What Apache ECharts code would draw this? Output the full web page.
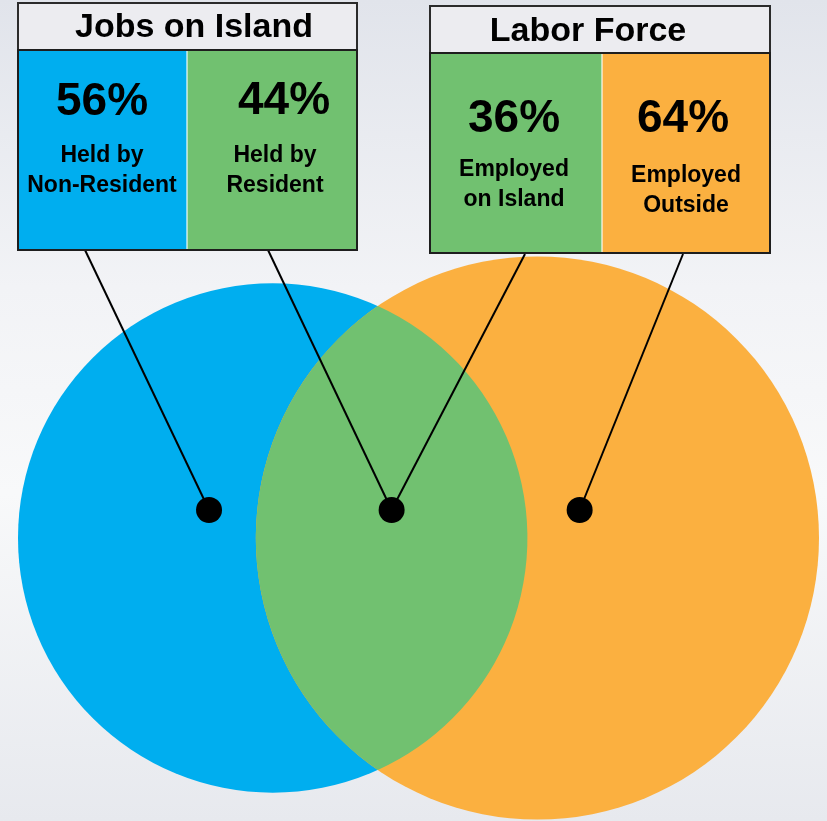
<!DOCTYPE html>
<html>
<head>
<meta charset="utf-8">
<title>Jobs on Island / Labor Force</title>
<script src="https://cdn.jsdelivr.net/npm/echarts@6/dist/echarts.min.js"></script>
<style>
  html, body { margin: 0; padding: 0; }
  #chart { width: 827px; height: 821px; }
</style>
</head>
<body>
<div id="chart"></div>
<script>
// ---- data ----
const jobsTitle = 'Jobs on Island';
const jobsLabels = [['Held by', 'Non-Resident'], ['Held by', 'Resident']];
const jobsShares = [56, 44];           // non-resident, resident

const laborTitle = 'Labor Force';
const laborLabels = [['Employed', 'on Island'], ['Employed', 'Outside']];
const laborShares = [36, 64];          // on island, outside

// ---- colours ----
const BLUE = '#00aeef';
const GREEN = '#71c170';
const ORANGE = '#fbb040';
const FONT = "'Liberation Sans', Arial, sans-serif";

// area of the lens shared by two circles at distance d
function lensArea(d, r1, r2) {
  const a1 = Math.acos((d * d + r1 * r1 - r2 * r2) / (2 * d * r1));
  const a2 = Math.acos((d * d + r2 * r2 - r1 * r1) / (2 * d * r2));
  const k = Math.sqrt((-d + r1 + r2) * (d + r1 - r2) * (d - r1 + r2) * (d + r1 + r2));
  return r1 * r1 * a1 + r2 * r2 * a2 - 0.5 * k;
}

// area-proportional venn: overlap = residents working on island
const overlapOfJobs = jobsShares[1] / 100;
const overlapOfLabor = laborShares[0] / 100;
const r1u = 1;
const r2u = Math.sqrt(overlapOfJobs / overlapOfLabor);
const target = overlapOfJobs * Math.PI * r1u * r1u;
let lo = Math.abs(r2u - r1u) + 1e-6, hi = r1u + r2u - 1e-6;
for (let i = 0; i < 60; i++) {
  const mid = (lo + hi) / 2;
  if (lensArea(mid, r1u, r2u) > target) lo = mid; else hi = mid;
}
const du = (lo + hi) / 2;

// fit the two circles between the left and right edges of the drawing
const LEFT = 18, RIGHT = 819, CY = 538;
const scale = (RIGHT - LEFT) / (r1u + du + r2u);
const r1 = r1u * scale, r2 = r2u * scale;
const c1 = LEFT + r1;
const c2 = c1 + du * scale;

const circleData = [[c1, CY, r1], [c2, CY, r2]];
const circleColors = [BLUE, ORANGE];
const lensData = [[c1, CY, r1, c2, r2]];

// dots: inside blue only, centre of the lens, inside orange only
const DOT_Y = 510;
const lensMid = ((c2 - r2) + (c1 + r1)) / 2;
const dotData = [[c1 - 0.25 * r1, DOT_Y], [lensMid, DOT_Y], [c2 + 0.15 * r2, DOT_Y]];
const leaderData = [
  [85, 250, dotData[0][0], DOT_Y],
  [268, 250, dotData[1][0], DOT_Y],
  [525, 254, dotData[1][0], DOT_Y],
  [683, 254, dotData[2][0], DOT_Y]
];

// ---- boxes on top ----
const boxes = [
  {
    title: jobsTitle, labels: jobsLabels, shares: jobsShares, colors: [BLUE, GREEN],
    x: 18, y: 3, w: 339, headH: 47, cellH: 200, split: 169, titleX: 194, titleBase: 39,
    cols: [
      { pctX: 102, pctBase: 118, lineX: 102, lineBase: 163 },
      { pctX: 284, pctBase: 117, lineX: 275, lineBase: 163 }
    ]
  },
  {
    title: laborTitle, labels: laborLabels, shares: laborShares, colors: [GREEN, ORANGE],
    x: 430, y: 6, w: 340, headH: 47, cellH: 200, split: 172, titleX: 588, titleBase: 43,
    cols: [
      { pctX: 514, pctBase: 135, lineX: 514, lineBase: 177 },
      { pctX: 683, pctBase: 135, lineX: 686, lineBase: 183 }
    ]
  }
];

function textEl(str, x, baseline, size) {
  return {
    type: 'text',
    x: x,
    y: baseline - 0.34 * size,
    z: 10,
    style: {
      text: str,
      font: 'bold ' + size + 'px ' + FONT,
      fill: '#000',
      align: 'center', textAlign: 'center',
      verticalAlign: 'middle', textVerticalAlign: 'middle'
    }
  };
}

const graphics = [];
boxes.forEach(b => {
  const cellY = b.y + b.headH;
  graphics.push({
    type: 'rect', z: 10,
    shape: { x: b.x, y: b.y, width: b.w, height: b.headH },
    style: { fill: '#ececf0', stroke: '#2b2b2b', lineWidth: 2 }
  });
  graphics.push({
    type: 'rect', z: 10,
    shape: { x: b.x, y: cellY, width: b.split, height: b.cellH },
    style: { fill: b.colors[0] }
  });
  graphics.push({
    type: 'rect', z: 10,
    shape: { x: b.x + b.split, y: cellY, width: b.w - b.split, height: b.cellH },
    style: { fill: b.colors[1] }
  });
  graphics.push({
    type: 'line', z: 10,
    shape: { x1: b.x + b.split, y1: cellY, x2: b.x + b.split, y2: cellY + b.cellH },
    style: { stroke: 'rgba(255,255,255,0.75)', lineWidth: 1.5 }
  });
  graphics.push({
    type: 'rect', z: 10,
    shape: { x: b.x, y: cellY, width: b.w, height: b.cellH },
    style: { fill: 'none', stroke: '#1e1e1e', lineWidth: 2 }
  });
  graphics.push(textEl(b.title, b.titleX, b.titleBase, 34));
  b.cols.forEach((c, i) => {
    graphics.push(textEl(b.shares[i] + '%', c.pctX, c.pctBase, 46));
    b.labels[i].forEach((ln, j) => {
      graphics.push(textEl(ln, c.lineX, c.lineBase + j * 30, 23));
    });
  });
});

const chart = echarts.init(document.getElementById('chart'));

const option = {
  backgroundColor: {
    type: 'linear', x: 0, y: 0, x2: 0, y2: 1,
    colorStops: [
      { offset: 0, color: '#e1e4eb' },
      { offset: 0.35, color: '#f2f3f6' },
      { offset: 0.6, color: '#f8f9fa' },
      { offset: 1, color: '#e7e9ee' }
    ]
  },
  animation: false,
  grid: { left: 0, right: 0, top: 0, bottom: 0 },
  xAxis: { type: 'value', min: 0, max: 827, show: false },
  yAxis: { type: 'value', min: 0, max: 821, inverse: true, show: false },
  series: [
    {
      type: 'custom',
      data: circleData,
      encode: { x: 0, y: 1 },
      renderItem: (params, api) => {
        const c = api.coord([api.value(0), api.value(1)]);
        const r = api.size([api.value(2), 0])[0];
        return {
          type: 'circle',
          shape: { cx: c[0], cy: c[1], r: r },
          style: { fill: circleColors[params.dataIndex] }
        };
      }
    },
    {
      type: 'custom',
      data: lensData,
      encode: { x: [0, 3], y: 1 },
      renderItem: (params, api) => {
        const p1 = api.coord([api.value(0), api.value(1)]);
        const p2 = api.coord([api.value(3), api.value(1)]);
        const R1 = api.size([api.value(2), 0])[0];
        const R2 = api.size([api.value(4), 0])[0];
        const D = p2[0] - p1[0];
        const a = (D * D + R1 * R1 - R2 * R2) / (2 * D);
        const h = Math.sqrt(R1 * R1 - a * a);
        const xi = p1[0] + a;
        const y = p1[1];
        const d = 'M ' + xi + ' ' + (y - h) +
          ' A ' + R1 + ' ' + R1 + ' 0 0 1 ' + xi + ' ' + (y + h) +
          ' A ' + R2 + ' ' + R2 + ' 0 0 1 ' + xi + ' ' + (y - h) + ' Z';
        return { type: 'path', shape: { pathData: d }, style: { fill: GREEN } };
      }
    },
    {
      type: 'custom',
      data: leaderData,
      encode: { x: [0, 2], y: [1, 3] },
      renderItem: (params, api) => {
        const s = api.coord([api.value(0), api.value(1)]);
        const e = api.coord([api.value(2), api.value(3)]);
        return {
          type: 'line',
          shape: { x1: s[0], y1: s[1], x2: e[0], y2: e[1] },
          style: { stroke: '#000', lineWidth: 2 }
        };
      }
    },
    {
      type: 'scatter',
      data: dotData,
      symbol: 'circle',
      symbolSize: 26,
      itemStyle: { color: '#000', opacity: 1 },
      emphasis: { disabled: true }
    }
  ],
  graphic: graphics
};

chart.setOption(option);
window.addEventListener('resize', () => chart.resize());
</script>
</body>
</html>
